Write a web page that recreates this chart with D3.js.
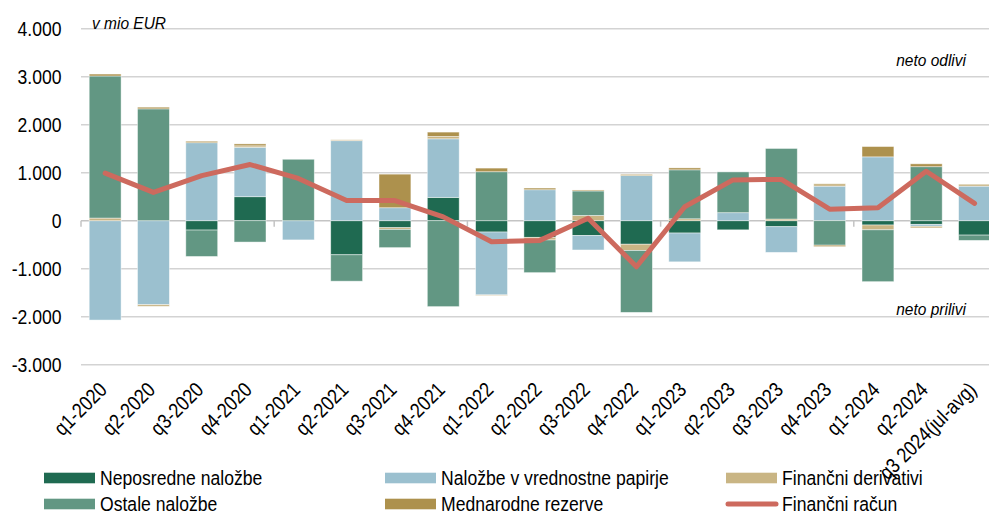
<!DOCTYPE html>
<html>
<head>
<meta charset="utf-8">
<script src="https://cdn.jsdelivr.net/npm/d3@7"></script>
<style>
    body { margin: 0; background: #fff; }
    text { font-family: "Liberation Sans", Arial, sans-serif; fill: #000; }
</style>
</head>
<body>
<div id="chart"></div>
<script>
const W = 989, H = 516;

// categories and series (mio EUR)
const categories = ["q1-2020", "q2-2020", "q3-2020", "q4-2020", "q1-2021", "q2-2021", "q3-2021", "q4-2021",
    "q1-2022", "q2-2022", "q3-2022", "q4-2022", "q1-2023", "q2-2023", "q3-2023", "q4-2023",
    "q1-2024", "q2-2024", "q3 2024(jul-avg)"];
const neposredne = [0, 0, -195, 500, 0, -710, -146, 486, -236, -347, -310, -490, -257, -190, -125, 0, -90, -76, -300];
const vrednostni = [-2070, -1750, 1625, 1030, -400, 1667, 270, 1220, -1310, 645, -300, 940, -600, 167, -535, 720, 1330, -40, 720];
const derivativi = [55, -35, 0, 30, 0, 20, -35, 50, -15, -55, 110, -130, 40, 0, 35, 50, -100, -35, 40];
const ostale = [2960, 2330, -550, -445, 1280, -550, -380, -1790, 1020, -680, 510, -1290, 1020, 850, 1470, -510, -1080, 1125, -110];
const rezerve = [40, 35, 30, 40, 0, 0, 700, 90, 76, 35, 20, 25, 40, 0, 0, -30, 215, 60, 0];
const financniRacun = [990, 590, 940, 1170, 880, 420, 420, 80, -440, -410, 50, -960, 290, 850, 860, 240, 270, 1030, 360];
const yTicks = [-3000, -2000, -1000, 0, 1000, 2000, 3000, 4000];

const series = [
    { key: "nep", name: "Neposredne naložbe", values: neposredne, color: "#1f6a51" },
    { key: "vp", name: "Naložbe v vrednostne papirje", values: vrednostni, color: "#9bc0cf" },
    { key: "der", name: "Finančni derivativi", values: derivativi, color: "#c9b584" },
    { key: "ost", name: "Ostale naložbe", values: ostale, color: "#629783" },
    { key: "rez", name: "Mednarodne rezerve", values: rezerve, color: "#ad914d" },
];
const lineColor = "#cd6a5e";

// rows for d3.stack
const rows = categories.map((c, i) => {
    const r = { cat: c };
    series.forEach(s => r[s.key] = s.values[i]);
    return r;
});

const svg = d3.select("#chart").append("svg").attr("width", W).attr("height", H);

const x = d3.scaleBand()
    .domain(categories)
    .range([81, 81 + 48.3 * categories.length])
    .paddingInner(0.34)
    .paddingOuter(0.17);

const y = d3.scaleLinear().domain([-3000, 4000]).range([364.7, 28.7]);

// 1.000 style, plain hyphen for negatives
const fmt = v => d3.format(",")(v).replace(/,/g, ".").replace("\u2212", "-");

// gridlines
svg.append("g").selectAll("line")
    .data(yTicks.filter(d => d !== 0))
    .enter().append("line")
    .attr("x1", 81).attr("x2", W)
    .attr("y1", d => y(d)).attr("y2", d => y(d))
    .attr("stroke", "#d3d3d3").attr("stroke-width", 1.5);

// zero axis with tick marks every 4 categories
svg.append("line")
    .attr("x1", 81).attr("x2", W)
    .attr("y1", y(0)).attr("y2", y(0))
    .attr("stroke", "#c4c4c4").attr("stroke-width", 1.5);
const step = x.step();
svg.append("g").selectAll("line")
    .data(categories.filter((c, i) => i % 4 === 0))
    .enter().append("line")
    .attr("x1", d => x(d) - step * 0.17).attr("x2", d => x(d) - step * 0.17)
    .attr("y1", y(0)).attr("y2", y(0) + 6)
    .attr("stroke", "#c4c4c4").attr("stroke-width", 1.5);

// stacked bars
const stack = d3.stack().keys(series.map(s => s.key)).offset(d3.stackOffsetDiverging);
const stacked = stack(rows);

svg.append("g").selectAll("g")
    .data(stacked)
    .enter().append("g")
    .attr("fill", (d, i) => series[i].color)
    .selectAll("rect")
    .data(d => d)
    .enter().append("rect")
    .attr("x", d => x(d.data.cat))
    .attr("width", x.bandwidth())
    .attr("y", d => y(Math.max(d[0], d[1])))
    .attr("height", d => Math.abs(y(d[0]) - y(d[1])))
    .attr("stroke", "rgba(255,255,255,0.55)")
    .attr("stroke-width", 0.8);

// line
const line = d3.line()
    .x((d, i) => x(categories[i]) + x.bandwidth() / 2)
    .y(d => y(d));

svg.append("path")
    .datum(financniRacun)
    .attr("d", line)
    .attr("fill", "none")
    .attr("stroke", lineColor)
    .attr("stroke-width", 5)
    .attr("stroke-linejoin", "round")
    .attr("stroke-linecap", "round");

// y tick labels
svg.append("g").selectAll("text")
    .data(yTicks)
    .enter().append("text")
    .attr("transform", d => `translate(61.5,${y(d) + 7.4}) scale(1,1.18)`)
    .attr("text-anchor", "end")
    .style("font-size", "17.6px")
    .text(d => fmt(d));

// x labels
svg.append("g").selectAll("text")
    .data(categories)
    .enter().append("text")
    .attr("transform", d => `translate(${x(d) + x.bandwidth() / 2 + 3},391) rotate(-45) scale(1,1.18)`)
    .attr("text-anchor", "end")
    .style("font-size", "17.6px")
    .text(d => d);

// annotations
svg.append("text")
    .attr("transform", "translate(92,29) scale(1,1.1)")
    .style("font-size", "15.5px").style("font-style", "italic")
    .text("v mio EUR");
svg.append("text")
    .attr("transform", "translate(966,66) scale(1,1.1)")
    .attr("text-anchor", "end")
    .style("font-size", "15.5px").style("font-style", "italic")
    .text("neto odlivi");
svg.append("text")
    .attr("transform", "translate(966,314.5) scale(1,1.1)")
    .attr("text-anchor", "end")
    .style("font-size", "15.5px").style("font-style", "italic")
    .text("neto prilivi");

// legend: 3 columns, 2 rows, in series order
const legendItems = series.map(s => ({ name: s.name, color: s.color, type: "rect" }))
    .concat([{ name: "Finančni račun", color: lineColor, type: "line" }]);
const colX = [44, 385, 726];
const rowY = [478, 504];

const lg = svg.append("g").selectAll("g")
    .data(legendItems)
    .enter().append("g")
    .attr("transform", (d, i) => `translate(${colX[i % 3]},${rowY[Math.floor(i / 3)]})`);

lg.filter(d => d.type === "rect").append("rect")
    .attr("x", 0).attr("y", -5.3).attr("width", 51).attr("height", 10.6)
    .attr("fill", d => d.color);

lg.filter(d => d.type === "line").append("line")
    .attr("x1", 2).attr("x2", 50).attr("y1", 0).attr("y2", 0)
    .attr("stroke", d => d.color).attr("stroke-width", 5)
    .attr("stroke-linecap", "round");

lg.append("text")
    .attr("transform", "translate(56,7) scale(1,1.12)")
    .style("font-size", "17.6px")
    .text(d => d.name);
</script>
</body>
</html>
